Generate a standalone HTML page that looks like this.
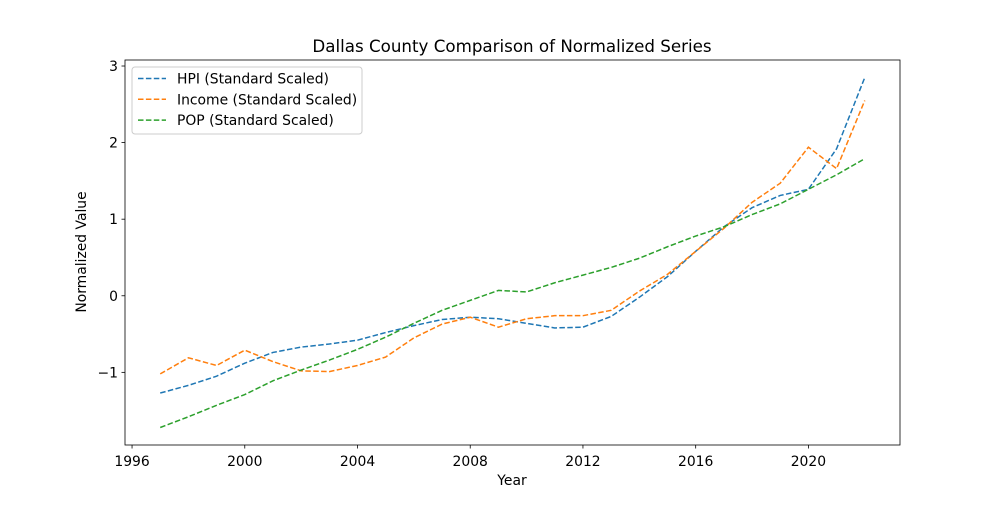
<!DOCTYPE html>
<html><head><meta charset="utf-8"><style>body{margin:0;background:#fff}svg{font-family:"DejaVu Sans","Liberation Sans",sans-serif}</style></head>
<body>
<svg id="chart" width="1000" height="500" xmlns="http://www.w3.org/2000/svg">
<rect width="1000" height="500" fill="#fff"/>
<text x="512" y="52" text-anchor="middle" font-size="16.7">Dallas County Comparison of Normalized Series</text>
<g id="plot"></g>
<text x="512" y="485" text-anchor="middle" font-size="13.9">Year</text>
<text x="86" y="252" text-anchor="middle" font-size="13.9" transform="rotate(-90 86 252)">Normalized Value</text>
</svg>
<script>
const years = [1997,1998,1999,2000,2001,2002,2003,2004,2005,2006,2007,2008,2009,2010,2011,2012,2013,2014,2015,2016,2017,2018,2019,2020,2021,2022];
const hpi = [-1.27,-1.17,-1.05,-0.88,-0.74,-0.67,-0.63,-0.58,-0.48,-0.39,-0.31,-0.28,-0.30,-0.36,-0.42,-0.41,-0.27,-0.02,0.25,0.58,0.90,1.15,1.31,1.39,1.92,2.85];
const income = [-1.02,-0.81,-0.91,-0.71,-0.86,-0.98,-0.99,-0.91,-0.80,-0.55,-0.37,-0.28,-0.41,-0.30,-0.26,-0.26,-0.19,0.06,0.28,0.58,0.88,1.22,1.47,1.94,1.66,2.55];
const pop = [-1.72,-1.58,-1.43,-1.29,-1.11,-0.97,-0.84,-0.70,-0.54,-0.36,-0.19,-0.06,0.07,0.05,0.17,0.27,0.37,0.49,0.64,0.78,0.90,1.06,1.20,1.39,1.58,1.79];
const xTicks = [1996,2000,2004,2008,2012,2016,2020];
const yTicks = [-1,0,1,2,3];
const seriesNames = ["HPI (Standard Scaled)","Income (Standard Scaled)","POP (Standard Scaled)"];

const L=125,R=900,T=60,B=445;
const NS="http://www.w3.org/2000/svg";
const g=document.getElementById('plot');
const all=hpi.concat(income,pop);
let ymin=Math.min(...all),ymax=Math.max(...all);const ym=(ymax-ymin)*0.05;ymin-=ym;ymax+=ym;
let xmin=years[0],xmax=years[years.length-1];const xm=(xmax-xmin)*0.05;xmin-=xm;xmax+=xm;
const sx=v=>L+(v-xmin)/(xmax-xmin)*(R-L);
const sy=v=>B-(v-ymin)/(ymax-ymin)*(B-T);
function el(t,a){const e=document.createElementNS(NS,t);for(const k in a)e.setAttribute(k,a[k]);g.appendChild(e);return e;}
const colors=["#1f77b4","#ff7f0e","#2ca02c"];
[hpi,income,pop].forEach((s,i)=>{
 const p=el('polyline',{points:s.map((v,j)=>sx(years[j])+','+sy(v)).join(' '),fill:'none',stroke:colors[i],'stroke-width':1.5,'stroke-dasharray':'5.5,2.4'});
 
 
});
const fr=el('rect',{x:L,y:T,width:R-L,height:B-T,fill:'none',stroke:'#000','stroke-width':0.8});


xTicks.forEach(t=>{const x=sx(t);
 const l=el('line',{x1:x,x2:x,y1:B,y2:B+3.5,stroke:'#000','stroke-width':0.8});
 
 
 const tx=el('text',{x:x,y:B+21,'text-anchor':'middle','font-size':13.9});tx.textContent=t;
 
 
});
yTicks.forEach(t=>{const y=sy(t);
 const l=el('line',{x1:L-3.5,x2:L,y1:y,y2:y,stroke:'#000','stroke-width':0.8});
 
 
 const tx=el('text',{x:L-7,y:y+5,'text-anchor':'end','font-size':13.9});tx.textContent=t<0?'\u2212'+(-t):t;
 
 
});
const lg=el('rect',{x:132,y:67,width:230,height:67,fill:'#fff',stroke:'#ccc',rx:3});


seriesNames.forEach((n,i)=>{const y=78.5+i*20.8;
 const l=el('line',{x1:138,x2:166,y1:y,y2:y,stroke:colors[i],'stroke-width':1.5,'stroke-dasharray':'5.5,2.4'});
 
 
 const tx=el('text',{x:177,y:y+5,'font-size':13.9});tx.textContent=n;
 
 
});
</script>
</body></html>
